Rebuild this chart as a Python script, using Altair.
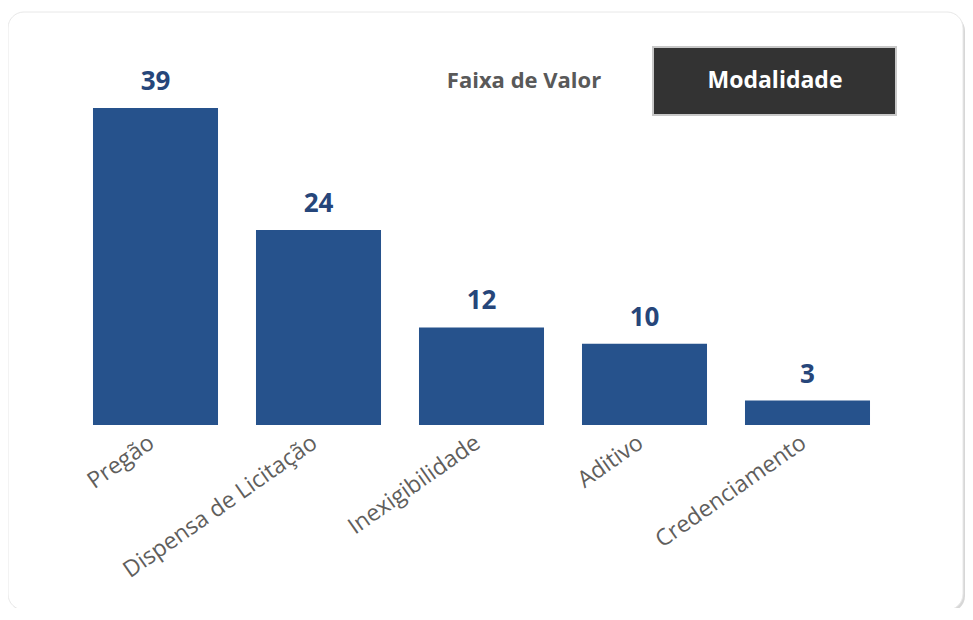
import altair as alt
import pandas as pd

categories = ["Pregão", "Dispensa de Licitação", "Inexigibilidade", "Aditivo", "Credenciamento"]
counts = [39, 24, 12, 10, 3]
button_labels = ["Faixa de Valor", "Modalidade"]

df = pd.DataFrame({"modalidade": categories, "qtd": counts})
one = pd.DataFrame({"k": [0]})

FONT = "Open Sans"
W, H = 815, 317

# decorative card + shadow
shadow = alt.Chart(one).mark_rect(cornerRadius=16, fill="#bdbdbd", opacity=0.6).encode(
    x=alt.value(-64), x2=alt.value(891), y=alt.value(-93), y2=alt.value(504))
card = alt.Chart(one).mark_rect(cornerRadius=16, fill="white", stroke="#e8e8e8", strokeWidth=1).encode(
    x=alt.value(-66), x2=alt.value(889), y=alt.value(-96), y2=alt.value(502))

# buttons
btn = alt.Chart(one).mark_rect(fill="#333333", stroke="#c8c8c8", strokeWidth=2).encode(
    x=alt.value(579), x2=alt.value(822), y=alt.value(-61), y2=alt.value(7))
btn_text = alt.Chart(one).mark_text(font=FONT, fontSize=23, fontWeight="bold", color="white",
                                    align="center", baseline="middle").encode(
    x=alt.value(701), y=alt.value(-27), text=alt.value(button_labels[1]))
faixa_text = alt.Chart(one).mark_text(font=FONT, fontSize=22, fontWeight="bold", color="#595959",
                                      align="center", baseline="middle").encode(
    x=alt.value(450), y=alt.value(-27), text=alt.value(button_labels[0]))

x = alt.X("modalidade:N", sort=categories,
          scale=alt.Scale(paddingInner=0.233, paddingOuter=0.1165),
          axis=alt.Axis(title=None, labelAngle=-35, labelFont=FONT, labelFontSize=23,
                        labelColor="#605E5C", domain=False, ticks=False, labelPadding=6,
                        labelOffset=-10, labelLimit=400, labelOverlap=False, zindex=1))
y = alt.Y("qtd:Q", scale=alt.Scale(domain=[0, 39], nice=False), axis=None)

base = alt.Chart(df)
bars = base.mark_bar(color="#26528C").encode(x=x, y=y)
labels = base.mark_text(dy=-18, baseline="alphabetic", font=FONT, fontSize=26, fontWeight="bold",
                        color="#26467A").encode(x=x, y=y, text="qtd:Q")

chart = alt.layer(shadow, card, bars, labels, btn, btn_text, faixa_text).properties(
    width=W, height=H,
    padding={"left": 66, "top": 100, "right": 76, "bottom": 183},
    autosize="none",
    background="white",
).configure_view(stroke=None)

chart.save("out.html", embed_options={"renderer": "svg", "actions": False})
